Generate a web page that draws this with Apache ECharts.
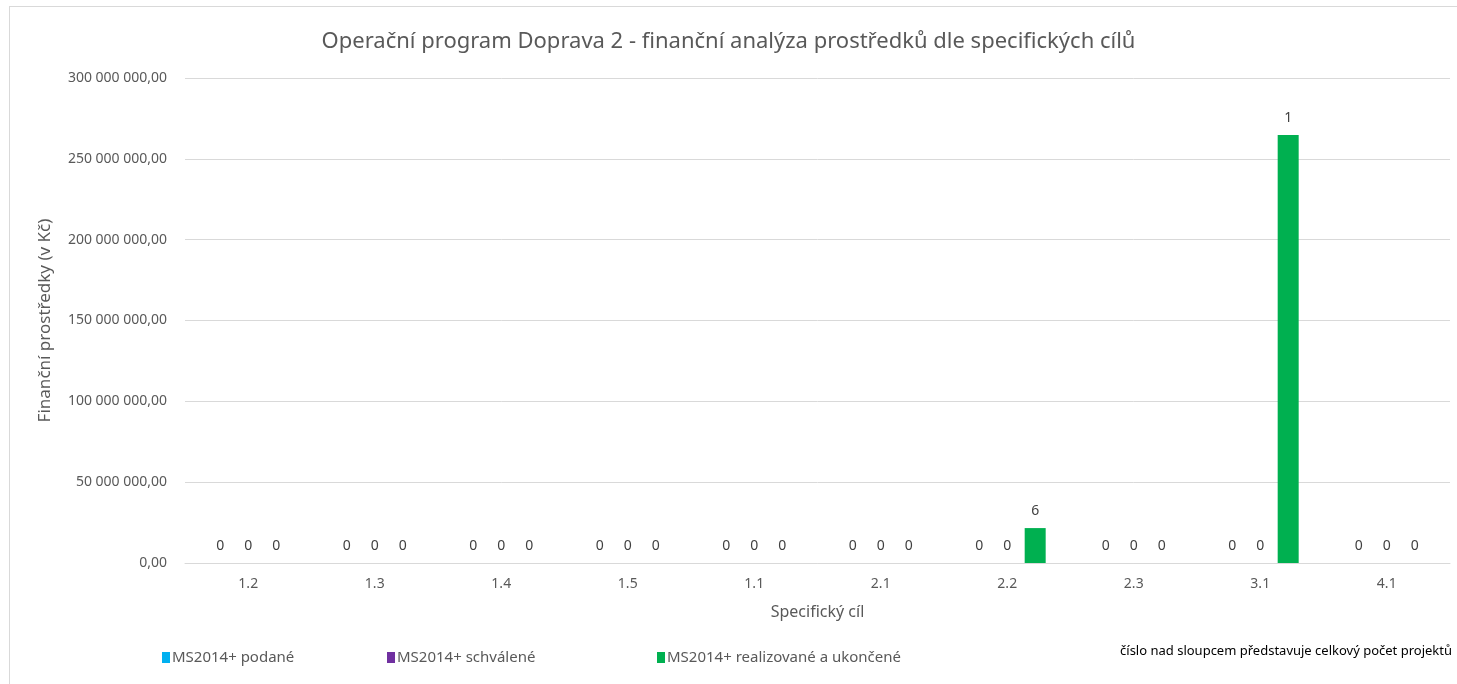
<!DOCTYPE html>
<html>
<head>
<meta charset="utf-8">
<script src="https://cdn.jsdelivr.net/npm/echarts@6/dist/echarts.min.js"></script>
<style>
  html, body { margin: 0; padding: 0; background: #fff; }
  #frame { position: absolute; left: 9px; top: 6px; width: 1460px; height: 690px; border: 1px solid #d9d9d9; box-sizing: border-box; }
  #chart { width: 1457px; height: 684px; }
</style>
</head>
<body>
<div id="frame"></div>
<div id="chart"></div>
<script>
// specifické cíle
var categories = ['1.2', '1.3', '1.4', '1.5', '1.1', '2.1', '2.2', '2.3', '3.1', '4.1'];

// finanční prostředky (Kč)
var podane = [0, 0, 0, 0, 0, 0, 0, 0, 0, 0];
var schvalene = [0, 0, 0, 0, 0, 0, 0, 0, 0, 0];
var realizovane = [0, 0, 0, 0, 0, 0, 21600000, 0, 264700000, 0];

// počet projektů nad sloupcem
var podaneCount = [0, 0, 0, 0, 0, 0, 0, 0, 0, 0];
var schvaleneCount = [0, 0, 0, 0, 0, 0, 0, 0, 0, 0];
var realizovaneCount = [0, 0, 0, 0, 0, 0, 6, 0, 1, 0];

var seriesNames = ['MS2014+ podané', 'MS2014+ schválené', 'MS2014+ realizované a ukončené'];
var colors = ['#00B0F0', '#7030A0', '#00B050'];

var fontFamily = '"Noto Sans", "Open Sans", sans-serif';

function fmtKc(v) {
    var s = Math.round(v).toString().replace(/\B(?=(\d{3})+(?!\d))/g, ' ');
    return s + ',00';
}

function makeSeries(name, values, counts, color) {
    return {
        name: name,
        type: 'bar',
        data: values,
        barWidth: 21,
        barGap: '33%',
        itemStyle: {color: color},
        label: {
            show: true,
            position: 'top',
            distance: 10,
            color: '#404040',
            fontSize: 14,
            fontFamily: fontFamily,
            formatter: function (p) { return counts[p.dataIndex]; }
        }
    };
}

var myChart = echarts.init(document.getElementById('chart'));
var option = {
    animation: false,
    textStyle: {fontFamily: fontFamily},
    title: {
        text: 'Operační program Doprava 2 - finanční analýza prostředků dle specifických cílů',
        left: 'center',
        top: 26,
        textStyle: {fontSize: 22, fontWeight: 'normal', color: '#595959', fontFamily: fontFamily}
    },
    grid: {left: 185, right: 7, top: 78, bottom: 121, containLabel: false},
    legend: [
        {data: [seriesNames[0]], left: 157, top: 645},
        {data: [seriesNames[1]], left: 382, top: 645},
        {data: [seriesNames[2]], left: 652, top: 645}
    ].map(function (l) {
        l.itemWidth = 8;
        l.itemHeight = 11;
        l.itemGap = 4;
        l.icon = 'rect';
        l.textStyle = {color: '#595959', fontSize: 15, fontFamily: fontFamily, padding: [0, 0, 0, -3]};
        return l;
    }),
    xAxis: {
        type: 'category',
        data: categories,
        name: 'Specifický cíl',
        nameLocation: 'middle',
        nameGap: 41,
        nameTextStyle: {color: '#595959', fontSize: 16, fontFamily: fontFamily},
        axisLine: {lineStyle: {color: '#d9d9d9'}},
        axisTick: {show: false},
        axisLabel: {color: '#595959', fontSize: 14, margin: 14, fontFamily: fontFamily}
    },
    yAxis: {
        type: 'value',
        min: 0,
        max: 300000000,
        interval: 50000000,
        name: 'Finanční prostředky (v Kč)',
        nameLocation: 'middle',
        nameGap: 131,
        nameTextStyle: {color: '#595959', fontSize: 17, fontFamily: fontFamily},
        axisLine: {show: false},
        axisTick: {show: false},
        splitLine: {lineStyle: {color: '#d9d9d9'}},
        axisLabel: {color: '#595959', fontSize: 14, margin: 18, fontFamily: fontFamily, formatter: fmtKc}
    },
    series: [
        makeSeries(seriesNames[0], podane, podaneCount, colors[0]),
        makeSeries(seriesNames[1], schvalene, schvaleneCount, colors[1]),
        makeSeries(seriesNames[2], realizovane, realizovaneCount, colors[2])
    ],
    graphic: [{
        type: 'text',
        right: 5,
        top: 645,
        style: {
            text: 'číslo nad sloupcem představuje celkový počet projektů',
            fill: '#000',
            fontSize: 13,
            fontFamily: fontFamily
        }
    }]
};
myChart.setOption(option);
</script>
</body>
</html>
